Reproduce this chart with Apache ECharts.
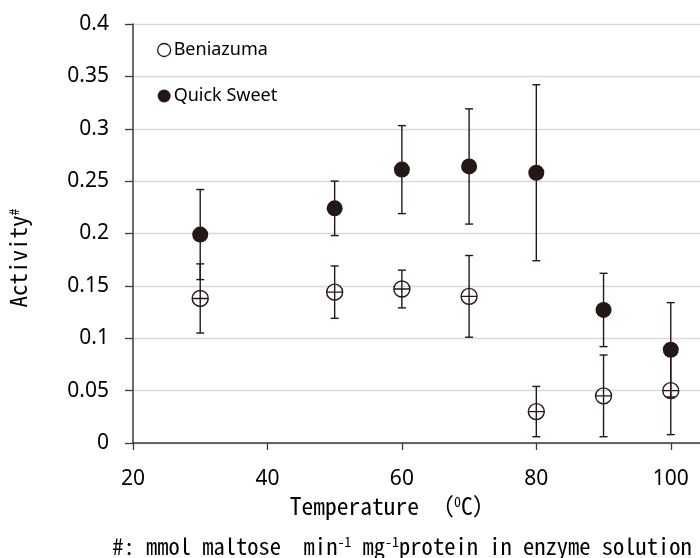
<!DOCTYPE html>
<html>
<head>
<meta charset="utf-8">
<script src="https://cdn.jsdelivr.net/npm/echarts@6/dist/echarts.min.js"></script>
<style>
html,body{margin:0;padding:0;background:#fff;}
#chart{width:700px;height:558px;}
</style>
</head>
<body>
<div id="chart"></div>
<script>
// ---- data ----
const temperatures = [30, 50, 60, 70, 80, 90, 100];
const beniazuma = [0.138, 0.144, 0.147, 0.140, 0.030, 0.045, 0.050];
const beniazumaErr = [0.033, 0.025, 0.018, 0.039, 0.024, 0.039, 0.042];
const quickSweet = [0.199, 0.224, 0.261, 0.264, 0.258, 0.127, 0.089];
const quickSweetErr = [0.043, 0.026, 0.042, 0.055, 0.084, 0.035, 0.045];
const xTicks = [20, 40, 60, 80, 100];
const seriesNames = ['Beniazuma', 'Quick Sweet'];
const xTitle = 'Temperature （{sup|0}C）';
const yTitle = 'Activity{sup|#}';
const footnote = '#: mmol maltose  min{sup|-1} mg{sup|-1}protein in enzyme solution';

const INK = '#231815';
const MONO = "'Noto Sans Mono CJK JP', 'Liberation Mono', monospace";
const SANS = "'Noto Sans', 'Open Sans', sans-serif";

function zip(xs, ys, es) { return xs.map((x, i) => [x, ys[i], es[i]]); }

function errRender(params, api) {
  const x = api.value(0), y = api.value(1), e = api.value(2);
  const top = api.coord([x, y + e]);
  const bot = api.coord([x, y - e]);
  const h = 4;
  const st = { stroke: INK, lineWidth: 1.4 };
  return {
    type: 'group',
    children: [
      { type: 'line', shape: { x1: top[0], y1: top[1], x2: bot[0], y2: bot[1] }, style: st },
      { type: 'line', shape: { x1: top[0] - h, y1: top[1], x2: top[0] + h, y2: top[1] }, style: st },
      { type: 'line', shape: { x1: bot[0] - h, y1: bot[1], x2: bot[0] + h, y2: bot[1] }, style: st }
    ]
  };
}

const supStyle = { fontFamily: MONO, fontSize: 14, padding: [0, 0, 9, 0], fill: '#000' };

const chart = echarts.init(document.getElementById('chart'), null, { renderer: 'canvas' });
chart.setOption({
  animation: false,
  backgroundColor: '#fff',
  grid: { left: 133, right: 0, top: 24, bottom: 115, containLabel: false },
  legend: {
    orient: 'vertical',
    left: 152,
    top: 35,
    itemGap: 26,
    itemWidth: 13,
    itemHeight: 13,
    textStyle: { fontFamily: SANS, fontSize: 18, color: '#000', lineHeight: 20, padding: [0, 0, 0, -2] },
    data: [
      { name: seriesNames[0], icon: 'circle', itemStyle: { color: '#fff', borderColor: INK, borderWidth: 1.3 } },
      { name: seriesNames[1], icon: 'circle', itemStyle: { color: INK } }
    ]
  },
  xAxis: {
    type: 'value',
    min: 20,
    max: 104.35,
    interval: 20,
    axisLine: { show: true, onZero: false, lineStyle: { color: '#3a3a3a', width: 1.5 } },
    axisTick: { show: true, length: 7, customValues: xTicks, lineStyle: { color: '#3a3a3a', width: 1.3 } },
    axisLabel: { customValues: xTicks, fontFamily: SANS, fontSize: 21, color: '#000', margin: 26 },
    splitLine: { show: false }
  },
  yAxis: {
    type: 'value',
    min: 0,
    max: 0.4,
    interval: 0.05,
    axisLine: { show: true, lineStyle: { color: '#3a3a3a', width: 1.5 } },
    axisTick: { show: true, length: 8, lineStyle: { color: '#3a3a3a', width: 1.3 } },
    axisLabel: { fontFamily: SANS, fontSize: 21, color: '#000', margin: 24 },
    splitLine: { show: true, lineStyle: { color: '#d9d9d9', width: 1.3 } }
  },
  series: [
    {
      name: seriesNames[0] + ' err', type: 'custom', renderItem: errRender,
      data: zip(temperatures, beniazuma, beniazumaErr), z: 2, silent: true
    },
    {
      name: seriesNames[1] + ' err', type: 'custom', renderItem: errRender,
      data: zip(temperatures, quickSweet, quickSweetErr), z: 2, silent: true
    },
    {
      name: seriesNames[1], type: 'scatter', z: 3,
      symbol: 'circle', symbolSize: 16,
      itemStyle: { color: INK, opacity: 1 },
      emphasis: { disabled: true },
      data: temperatures.map((t, i) => [t, quickSweet[i]])
    },
    {
      name: seriesNames[0], type: 'scatter', z: 4,
      symbol: 'path://M1,10A9,9 0 1,1 19,10A9,9 0 1,1 1,10ZM1,10L19,10',
      symbolSize: 16,
      itemStyle: { color: 'rgba(0,0,0,0)', borderColor: INK, borderWidth: 1.4, opacity: 1 },
      emphasis: { disabled: true },
      data: temperatures.map((t, i) => [t, beniazuma[i]])
    }
  ],
  graphic: [
    {
      type: 'text', x: 393, y: 506,
      style: {
        text: xTitle, fontFamily: MONO, fontSize: 23.5, fill: '#000',
        align: 'center', verticalAlign: 'middle',
        rich: { sup: supStyle }
      }
    },
    {
      type: 'text', x: 18, y: 258, rotation: Math.PI / 2,
      style: {
        text: yTitle, fontFamily: MONO, fontSize: 23, fill: '#000',
        align: 'center', verticalAlign: 'middle',
        rich: { sup: supStyle }
      }
    },
    {
      type: 'text', x: 402, y: 546,
      style: {
        text: footnote, fontFamily: MONO, fontSize: 22.5, fill: '#000',
        align: 'center', verticalAlign: 'middle',
        rich: { sup: supStyle }
      }
    }
  ]
});
</script>
</body>
</html>
